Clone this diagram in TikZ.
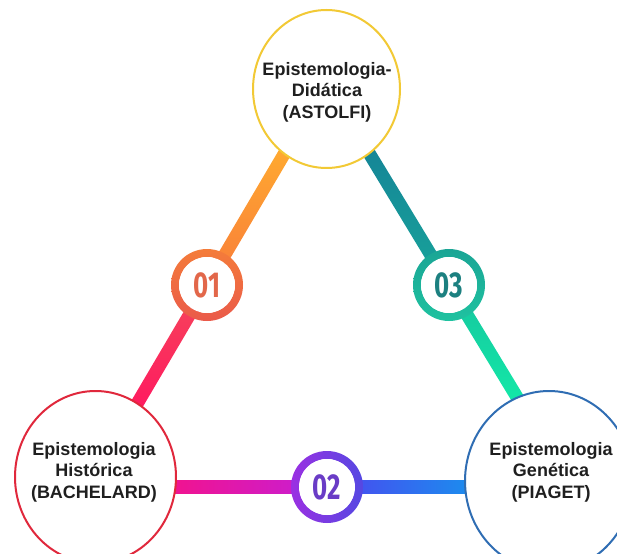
\documentclass[tikz,border=0pt]{standalone}
\usepackage{fontspec}
\setmainfont{Liberation Sans}
\newfontfamily\digitfont{Fira Sans}
\usetikzlibrary{calc,shapes.geometric}

% ring and bar colours
\definecolor{ringTop}{HTML}{F2C935}
\definecolor{ringLeft}{HTML}{E0283C}
\definecolor{ringRight}{HTML}{2F6DB3}
\definecolor{orA}{HTML}{FFAA30}
\definecolor{orB}{HTML}{F87A3A}
\definecolor{orC}{HTML}{F5485A}
\definecolor{orD}{HTML}{FF1860}
\definecolor{tlA}{HTML}{158597}
\definecolor{tlB}{HTML}{18A59A}
\definecolor{tlC}{HTML}{16C49E}
\definecolor{tlD}{HTML}{13EAA8}
\definecolor{mgA}{HTML}{F2138D}
\definecolor{mgB}{HTML}{C51FD8}
\definecolor{mgC}{HTML}{4D45F0}
\definecolor{mgD}{HTML}{1B8DEE}
\definecolor{oneRingA}{HTML}{F47C3A}
\definecolor{oneRingB}{HTML}{EA5A4A}
\definecolor{oneText}{HTML}{E2674A}
\definecolor{twoRingA}{HTML}{9B30E2}
\definecolor{twoRingB}{HTML}{5448E2}
\definecolor{twoText}{HTML}{6A3CC6}
\definecolor{thrRingA}{HTML}{1AA595}
\definecolor{thrRingB}{HTML}{1FC2A0}
\definecolor{thrText}{HTML}{1C8080}

% thick straight bar between two points, filled with a shading
\newcommand\gradbar[3]{%
  \shade[#3]
    ($(#1)!6.5pt!90:(#2)$) -- ($(#2)!6.5pt!-90:(#1)$) --
    ($(#2)!6.5pt!90:(#1)$) -- ($(#1)!6.5pt!-90:(#2)$) -- cycle;}

\tikzset{
  hub/.style={ellipse, draw=#1, fill=white, line width=2pt, inner sep=0pt},
  hubtext/.style={align=center, text=black!88, inner sep=0pt,
    font=\bfseries\fontsize{18}{21.5}\selectfont},
  badge/.style={circle, fill=white, minimum size=56pt, inner sep=0pt,
    text=#1, font=\digitfont\bfseries\fontsize{36}{36}\selectfont},
}

\begin{document}
\begin{tikzpicture}[x=1pt, y=-1pt]
  \clip (0,0) rectangle (617,553);
  \useasboundingbox (0,0) rectangle (617,553);

  % centres of the three topics and of the numbered badges
  \coordinate (T) at (326.5,89);
  \coordinate (L) at (95.5,477);
  \coordinate (R) at (549,481);
  \coordinate (B1) at (207,285);
  \coordinate (B3) at (449,285);
  \coordinate (B2) at (327,487);

  % bar end points, hidden under the big rings
  \coordinate (a1) at (286.5,150);
  \coordinate (b1) at (133.4,410);
  \coordinate (a3) at (367.2,150);
  \coordinate (b3) at (521.7,405);
  \coordinate (a2) at (168,487);
  \coordinate (b2) at (472,487);

  % connecting bars, each split at its badge
  \gradbar{a1}{B1}{top color=orA, bottom color=orB}
  \gradbar{B1}{b1}{top color=orC, bottom color=orD}
  \gradbar{a3}{B3}{top color=tlA, bottom color=tlB}
  \gradbar{B3}{b3}{top color=tlC, bottom color=tlD}
  \gradbar{a2}{B2}{left color=mgA, right color=mgB}
  \gradbar{B2}{b2}{left color=mgC, right color=mgD}

  % numbered badges
  \shade[top color=oneRingA, bottom color=oneRingB, even odd rule]
    (B1) circle (36pt) circle (28pt);
  \node[badge=oneText] (n1) at (B1) {\scalebox{0.72}[1]{01}};
  \shade[top color=thrRingA, bottom color=thrRingB, even odd rule]
    (B3) circle (36pt) circle (28pt);
  \node[badge=thrText] (n3) at (B3) {\scalebox{0.72}[1]{03}};
  \shade[left color=twoRingA, right color=twoRingB, even odd rule]
    (B2) circle (36pt) circle (28pt);
  \node[badge=twoText] (n2) at (B2) {\scalebox{0.72}[1]{02}};

  % the three topics
  \node[hub=ringTop, minimum width=147pt, minimum height=158pt] (top) at (T) {};
  \node[hub=ringLeft, minimum width=161pt, minimum height=172pt] (left) at (L) {};
  \node[hub=ringRight, minimum width=168pt, minimum height=180pt] (right) at (R) {};

  \node[hubtext, baseline] (topText) at (327,92)
    {\fontsize{18}{23}\selectfont Epistemologia-\\Didática\\(ASTOLFI)};
  \node[hubtext] (leftText) at (94,472)
    {Epistemologia\\Histórica\\(BACHELARD)};
  \node[hubtext] (rightText) at (551,472)
    {Epistemologia\\Genética\\(PIAGET)};
\end{tikzpicture}
\end{document}
